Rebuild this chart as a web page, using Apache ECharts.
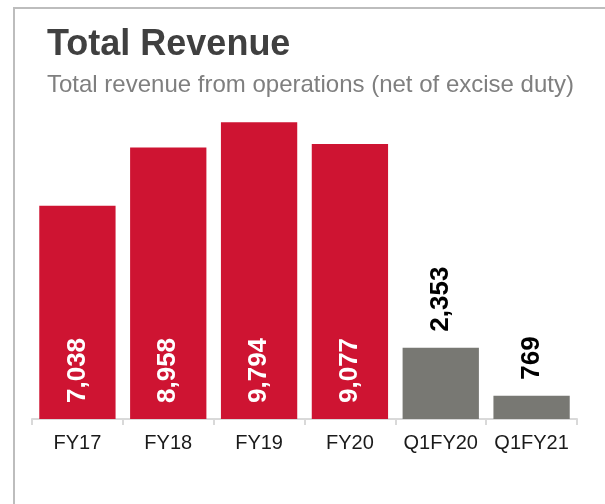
<!DOCTYPE html>
<html>
<head>
<meta charset="utf-8">
<script src="https://cdn.jsdelivr.net/npm/echarts@6/dist/echarts.min.js"></script>
<style>
  html, body { margin: 0; padding: 0; background: #fff; }
  #chart { width: 605px; height: 504px; }
</style>
</head>
<body>
<div id="chart"></div>
<script>
// data
var categories = ['FY17', 'FY18', 'FY19', 'FY20', 'Q1FY20', 'Q1FY21'];
var revenue = [7038, 8958, 9794, 9077, 2353, 769];
var isQuarter = [false, false, false, false, true, true];

var RED = '#ce1432';
var GREY = '#787873';

var myChart = echarts.init(document.getElementById('chart'));

var barData = revenue.map(function (v, i) {
  var q = isQuarter[i];
  return {
    value: v,
    itemStyle: { color: q ? GREY : RED },
    label: q ? {
      position: 'top',
      rotate: 90,
      align: 'left',
      verticalAlign: 'middle',
      distance: 16,
      color: '#000'
    } : {
      position: 'insideBottom',
      rotate: 90,
      align: 'left',
      verticalAlign: 'middle',
      distance: 16,
      color: '#fff'
    }
  };
});

var option = {
  animation: false,
  textStyle: { fontFamily: 'Liberation Sans, Arial, sans-serif' },
  graphic: [
    {
      type: 'rect',
      silent: true,
      shape: { x: 14, y: 8, width: 700, height: 600 },
      style: { fill: 'none', stroke: '#bdbdbd', lineWidth: 2 }
    }
  ],
  title: {
    text: 'Total Revenue',
    subtext: 'Total revenue from operations (net of excise duty)',
    left: 42,
    top: 22,
    itemGap: 10,
    textStyle: {
      fontFamily: 'Liberation Sans, Arial, sans-serif',
      fontSize: 36,
      fontWeight: 'bold',
      color: '#404040'
    },
    subtextStyle: {
      fontFamily: 'Liberation Sans, Arial, sans-serif',
      fontSize: 24,
      color: '#7f7f7f'
    }
  },
  grid: {
    left: 32,
    right: 28,
    top: 116,
    bottom: 85,
    containLabel: false
  },
  xAxis: {
    type: 'category',
    data: categories,
    axisLine: { lineStyle: { color: '#d9d9d9', width: 2 } },
    axisTick: { show: true, length: 6, lineStyle: { color: '#d9d9d9', width: 2 } },
    axisLabel: {
      color: '#1a1a1a',
      fontSize: 20,
      margin: 14,
      interval: 0
    }
  },
  yAxis: {
    type: 'value',
    min: 0,
    max: 10000,
    show: false,
    splitLine: { show: false }
  },
  series: [
    {
      type: 'bar',
      data: barData,
      barCategoryGap: '16%',
      label: {
        show: true,
        fontSize: 26,
        fontWeight: 'bold',
        fontFamily: 'Liberation Sans, Arial, sans-serif',
        formatter: function (p) {
          return p.value.toLocaleString('en-US');
        }
      }
    }
  ]
};

myChart.setOption(option);
window.onresize = myChart.resize;
</script>
</body>
</html>
